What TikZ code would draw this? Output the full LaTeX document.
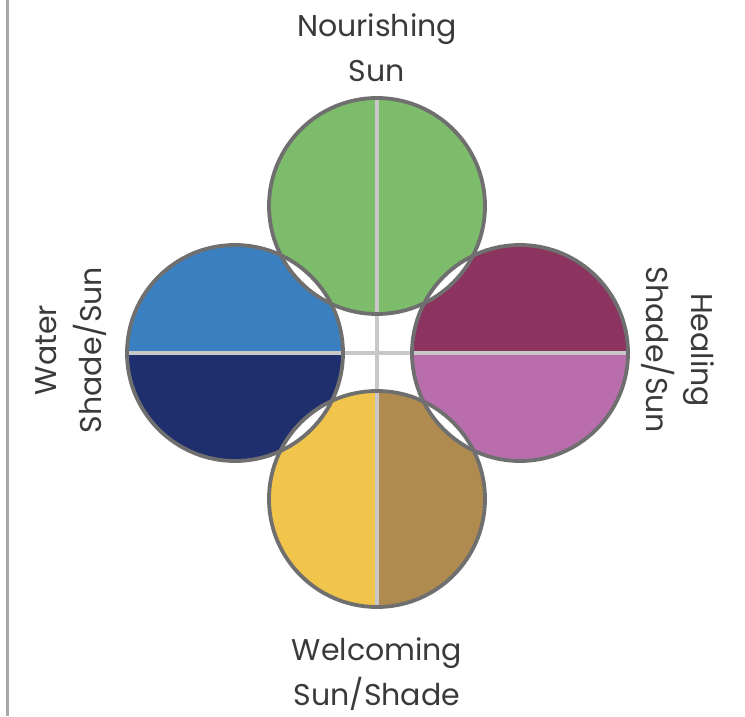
\documentclass[tikz,border=0pt]{standalone}
\usepackage{fontspec}
\setmainfont{Poppins}
\usetikzlibrary{calc,positioning}
\definecolor{GardenRim}{HTML}{6F6F6F}
\definecolor{GardenCross}{HTML}{C8C8C8}
\definecolor{GardenText}{HTML}{3A3A3A}
\definecolor{GardenFrame}{HTML}{A8A8A8}
\definecolor{NourishLeft}{HTML}{7DBC6B}
\definecolor{NourishRight}{HTML}{7DBC6B}
\definecolor{HealTop}{HTML}{8C345F}
\definecolor{HealBottom}{HTML}{B96DAD}
\definecolor{WelcomeLeft}{HTML}{F1C44B}
\definecolor{WelcomeRight}{HTML}{B08B50}
\definecolor{WaterTop}{HTML}{3A80C0}
\definecolor{WaterBottom}{HTML}{1F2E6C}
\tikzset{
  garden label/.style={text=GardenText,align=center,
    font=\fontsize{30}{45}\selectfont},
  garden rim/.style={GardenRim,line width=3.8pt},
}
\def\gardenR{108}

\begin{document}
\begin{tikzpicture}[x=1pt,y=1pt]
        \useasboundingbox (0,0) rectangle (745,716);
        \fill[white] (0,0) rectangle (745,716);
        \draw[GardenFrame,line width=3pt] (7,0) -- (7,716);

        \coordinate (mid) at (377,363);
        \coordinate (nour) at (377,510);
        \coordinate (welc) at (377,217);
        \coordinate (watr) at (235,363);
        \coordinate (heal) at (520,363);

        % half discs
        \fill[NourishLeft] (nour) ++(90:\gardenR) arc[start angle=90,end angle=270,radius=\gardenR] -- cycle;
        \fill[NourishRight] (nour) ++(-90:\gardenR) arc[start angle=-90,end angle=90,radius=\gardenR] -- cycle;
        \fill[HealTop] (heal) ++(0:\gardenR) arc[start angle=0,end angle=180,radius=\gardenR] -- cycle;
        \fill[HealBottom] (heal) ++(180:\gardenR) arc[start angle=180,end angle=360,radius=\gardenR] -- cycle;
        \fill[WelcomeLeft] (welc) ++(90:\gardenR) arc[start angle=90,end angle=270,radius=\gardenR] -- cycle;
        \fill[WelcomeRight] (welc) ++(-90:\gardenR) arc[start angle=-90,end angle=90,radius=\gardenR] -- cycle;
        \fill[WaterTop] (watr) ++(0:\gardenR) arc[start angle=0,end angle=180,radius=\gardenR] -- cycle;
        \fill[WaterBottom] (watr) ++(180:\gardenR) arc[start angle=180,end angle=360,radius=\gardenR] -- cycle;

        % white lenses where the discs meet
        \foreach \a/\b in {nour/watr,nour/heal,welc/watr,welc/heal}{
          \begin{scope}
            \clip (\a) circle[radius=\gardenR];
            \fill[white] (\b) circle[radius=\gardenR];
          \end{scope}
        }

        \draw[GardenCross,line width=4pt]
          ($(nour)+(0,\gardenR)$) -- ($(welc)-(0,\gardenR)$);
        \draw[GardenCross,line width=4pt]
          ($(watr)-(\gardenR,0)$) -- ($(heal)+(\gardenR,0)$);

        \foreach \c in {nour,heal,welc,watr}{
          \draw[garden rim] (\c) circle[radius=\gardenR];
        }

        \node[garden label] (nourtext) at (377,668) {Nourishing\\Sun};
        \node[garden label] (welctext) at (377,42) {Welcoming\\Sun/Shade};
        \node[garden label,rotate=90] (watrtext) at (71,366) {Water\\Shade/Sun};
        \node[garden label,rotate=-90] (healtext) at (678,366) {Healing\\Shade/Sun};
      \end{tikzpicture}
\end{document}
